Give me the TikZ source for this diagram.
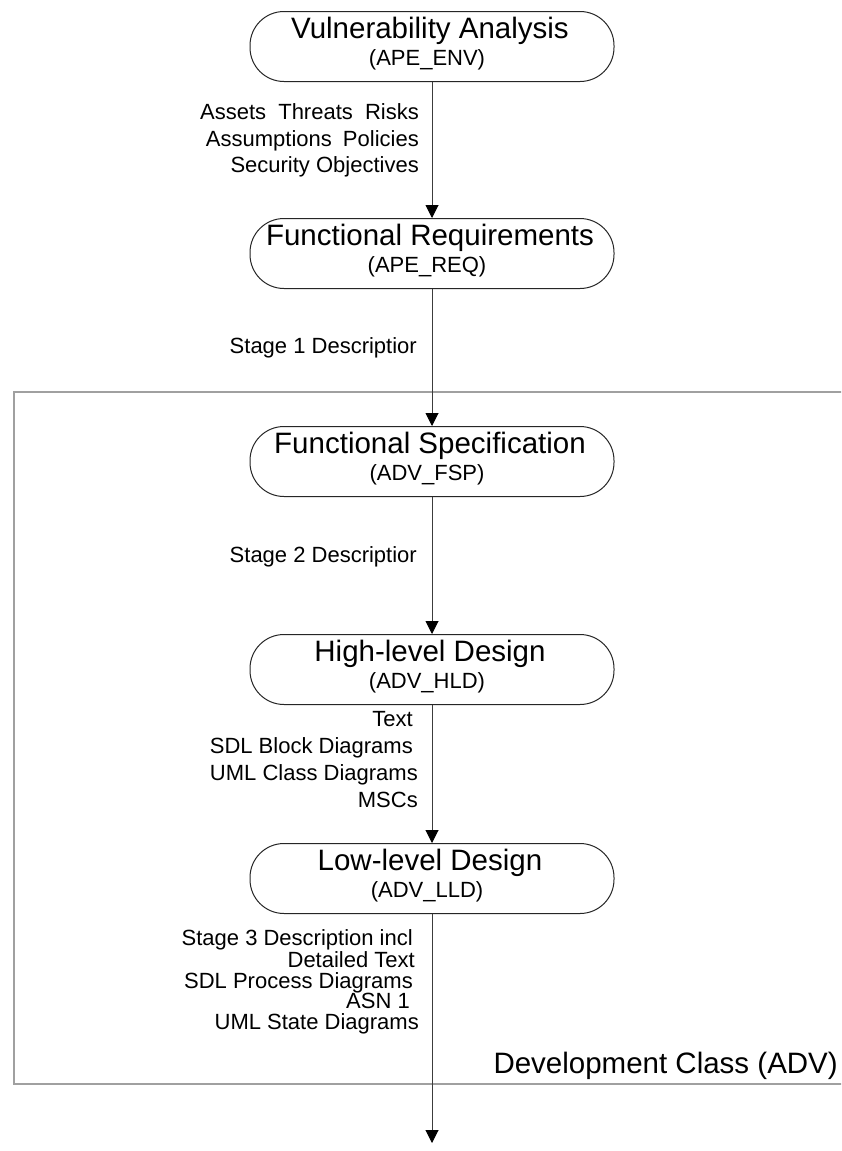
\documentclass[tikz,border=0pt]{standalone}
\usepackage{fontspec}
\setmainfont{Liberation Sans}
\usetikzlibrary{arrows.meta}
\definecolor{framegray}{RGB}{160,160,160}
\definecolor{linegray}{RGB}{60,60,60}
\begin{document}
\begin{tikzpicture}[x=1pt,y=-1pt,
  stagebox/.style={draw=black!85,line width=1pt,rounded corners=34pt,minimum width=364pt,minimum height=70pt,inner sep=0pt,anchor=north},
  ttl/.style={anchor=base,inner sep=0pt,font=\fontsize{29.5}{34}\selectfont},
  sub/.style={anchor=base,inner sep=0pt,font=\fontsize{22}{26}\selectfont},
  lbl/.style={anchor=base east,inner sep=0pt,font=\fontsize{22}{26}\selectfont},
  flow/.style={draw=linegray,line width=1pt,-{Triangle[length=13pt,width=13pt,color=black,fill=black]}},
  frameline/.style={draw=framegray,line width=2pt}]
\clip (0,0) rectangle (841,1151);
\fill[white] (0,0) rectangle (841,1151);
% development class frame (open to the right)
\draw[frameline] (870,392) -- (14,392) -- (14,1084) -- (870,1084);
\node[lbl,font=\fontsize{29.5}{34}\selectfont] (advlbl) at (838,1073.5) {Development Class (ADV)};
% stages
\node[stagebox] (va) at (432,11) {};
\node[ttl] (vat) at (430,38.5) {Vulnerability Analysis};
\node[sub] (vas) at (427,65.5) {(APE\_ENV)};
\node[stagebox] (fr) at (432,218) {};
\node[ttl] (frt) at (430,245.5) {Functional Requirements};
\node[sub] (frs) at (427,272.5) {(APE\_REQ)};
\node[stagebox] (fsp) at (432,426) {};
\node[ttl] (fspt) at (430,453.5) {Functional Specification};
\node[sub] (fsps) at (427,480.5) {(ADV\_FSP)};
\node[stagebox] (hld) at (432,634) {};
\node[ttl] (hldt) at (430,661.5) {High-level Design};
\node[sub] (hlds) at (427,688.5) {(ADV\_HLD)};
\node[stagebox] (lld) at (432,843) {};
\node[ttl] (lldt) at (430,870.5) {Low-level Design};
\node[sub] (llds) at (427,897.5) {(ADV\_LLD)};
\coordinate (out) at (432,1143);
% connectors
\draw[flow] (va.south) -- (fr.north);
\draw[flow] (fr.south) -- (fsp.north);
\draw[flow] (fsp.south) -- (hld.north);
\draw[flow] (hld.south) -- (lld.north);
\draw[flow] (lld.south) -- (out);
% connector labels
\node[lbl] (a1) at (419,119.5) {Assets\hspace{6pt} Threats\hspace{6pt} Risks};
\node[lbl] (a2) at (419,146) {Assumptions\hspace{5pt} Policies};
\node[lbl] (a3) at (419,172.5) {Security Objectives};
\node[lbl] (b1) at (417,353) {Stage 1 Descriptior};
\node[lbl] (c1) at (417,562) {Stage 2 Descriptior};
\node[lbl] (d1) at (413,726) {Text};
\node[lbl] (d2) at (413,753) {SDL Block Diagrams};
\node[lbl] (d3) at (418,780) {UML Class Diagrams};
\node[lbl] (d4) at (418,807) {MSCs};
\node[lbl] (e1) at (413,945) {Stage 3 Description incl};
\node[lbl] (e2) at (415,967) {Detailed Text};
\node[lbl] (e3) at (413,988) {SDL Process Diagrams};
\node[lbl] (e4) at (410,1008) {ASN 1};
\node[lbl] (e5) at (419,1029) {UML State Diagrams};
\end{tikzpicture}
\end{document}
